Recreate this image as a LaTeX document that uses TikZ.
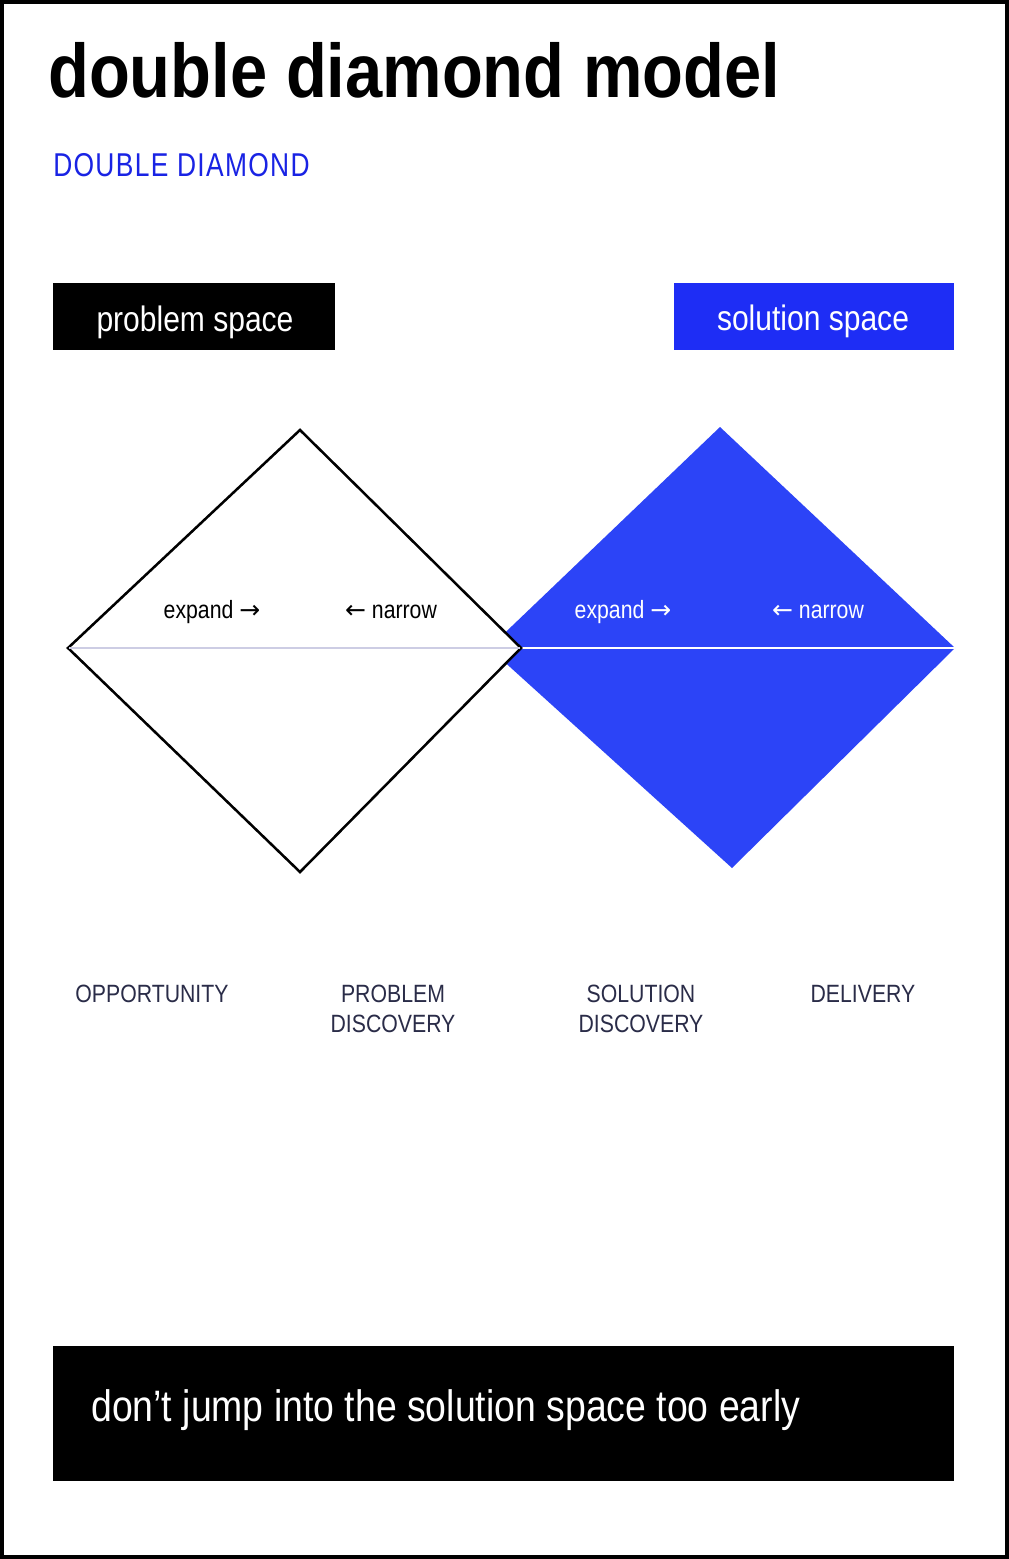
\documentclass[tikz,border=0pt]{standalone}
\usepackage{fontspec}
\setmainfont{Liberation Sans}[FakeStretch=0.85]
\newfontfamily\titlefont{Liberation Sans Bold}[FakeStretch=0.88]
\newfontfamily\arrowfont{DejaVu Sans}
\newfontfamily\subfont{Liberation Sans}[FakeStretch=0.8,LetterSpace=4]
\definecolor{ddblue}{RGB}{44,68,247}
\definecolor{boxblue}{RGB}{30,45,245}
\definecolor{subblue}{RGB}{25,35,228}
\definecolor{navy}{RGB}{42,44,72}
\definecolor{midgrey}{RGB}{205,205,228}
\newcommand{\rarr}{{\arrowfont →}}
\newcommand{\larr}{{\arrowfont ←}}
\tikzset{
  lbl/.style={inner sep=0pt, font=\fontsize{18.75}{22.5}\selectfont},
  phase/.style={inner sep=0pt, text=navy, align=center, anchor=north, font=\fontsize{18.75}{22.5}\selectfont},
  tagtext/.style={anchor=base, inner sep=0pt, text=white, font=\fontsize{26.5}{30}\selectfont},
}
\begin{document}
\begin{tikzpicture}[x=0.75pt,y=-0.75pt]
\useasboundingbox (0,0) rectangle (1009,1559);
\fill[white] (0,0) rectangle (1009,1559);
\draw[line width=3pt] (2,2) rectangle (1007,1557);

% title
\node[anchor=base west, inner sep=0pt, font=\titlefont\fontsize{57}{60}\selectfont] (title) at (48,98) {double diamond model};
\node[anchor=base west, inner sep=0pt, text=subblue, font=\subfont\fontsize{24.75}{28}\selectfont] (sub) at (53,176) {DOUBLE DIAMOND};

% tag boxes
\fill[black] (53,283) rectangle (335,350);
\node[tagtext] (prob) at (195,331) {problem space};
\fill[boxblue] (674,283) rectangle (954,350);
\node[tagtext] (sol) at (813,330) {solution space};

% diamonds
\coordinate (bT) at (720,427);
\coordinate (bL) at (489,648);
\coordinate (bB) at (732,868);
\coordinate (bR) at (955,648);
\fill[ddblue] (bT) -- (bR) -- (bB) -- (bL) -- cycle;
\draw[white, line width=1.5pt] (521,648) -- (bR);

\coordinate (wT) at (300,430);
\coordinate (wL) at (68,648);
\coordinate (wB) at (300,872);
\coordinate (wR) at (521,648);
\draw[fill=white, line width=1.9pt, line join=miter] (wT) -- (wR) -- (wB) -- (wL) -- cycle;
\draw[midgrey, line width=1.1pt] (69,648) -- (520,648);

% diamond labels
\node[lbl, anchor=base] (e1) at (212,618) {expand \rarr};
\node[lbl, anchor=base] (n1) at (391,618) {\larr{} narrow};
\node[lbl, anchor=base, text=white] (e2) at (623,618) {expand \rarr};
\node[lbl, anchor=base, text=white] (n2) at (818,618) {\larr{} narrow};

% phases
\node[phase] (p1) at (152,985) {OPPORTUNITY};
\node[phase] (p2) at (393,985) {PROBLEM\\DISCOVERY};
\node[phase] (p3) at (641,985) {SOLUTION\\DISCOVERY};
\node[phase] (p4) at (863,985) {DELIVERY};

% bottom banner
\fill[black] (53,1346) rectangle (954,1481);
\node[anchor=base west, inner sep=0pt, text=white, font=\fontsize{33}{36}\selectfont] (msg) at (91,1421) {don’t jump into the solution space too early};
\end{tikzpicture}
\end{document}
